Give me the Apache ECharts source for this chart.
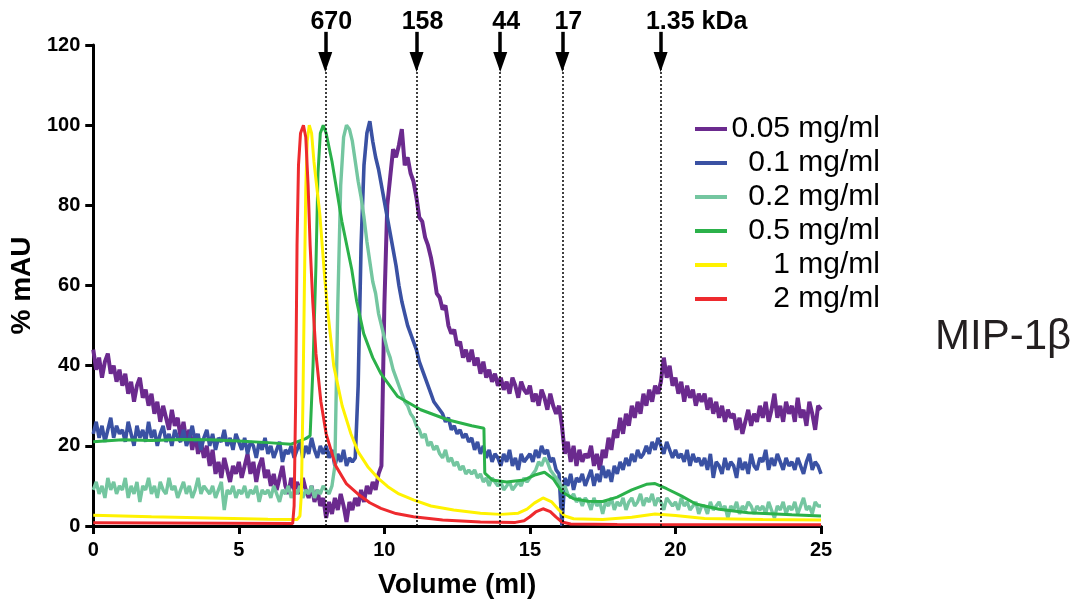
<!DOCTYPE html>
<html lang="en">
<head>
<meta charset="utf-8">
<title>MIP-1β SEC</title>
<script src="https://cdn.jsdelivr.net/npm/echarts@6/dist/echarts.min.js"></script>
<style>
  html, body { margin: 0; padding: 0; background: #fff; }
  #chart { width: 1084px; height: 607px; }
</style>
</head>
<body>
<div id="chart"></div>
<script>
// noisy traces are read every 0.1 ml from 0 to 25 ml
var STEP = 0.1;

var purple005 = [
  44, 39, 42, 37, 41, 43, 38, 40, 36, 39,
  35, 38, 33, 36, 31, 35, 37, 32, 34, 30,
  33, 28, 31, 26, 30, 27, 24, 29, 25, 27,
  22, 26, 21, 24, 19, 23, 18, 21, 17, 20,
  15, 19, 13, 16, 12, 17, 14, 11, 15, 13,
  16, 12, 15, 18, 13, 16, 11, 15, 17, 12,
  14, 10, 13, 9, 12, 15, 10, 8, 12, 9,
  11, 8, 12, 9, 7, 10, 6, 9, 5, 7,
  2, 6, 3, 7, 4, 8, 5, 1, 6, 4,
  7, 5, 9, 6, 10, 8, 11, 9, 13, 15,
  55, 80, 87, 94, 92, 95, 99, 90, 92, 88,
  86, 82, 77, 76, 72, 70, 67, 63, 58, 57,
  54, 55, 50, 48, 49, 45, 46, 42, 44, 41,
  44, 40, 42, 38, 41, 37, 39, 36, 38, 35,
  37, 34, 36, 33, 37, 35, 32, 36, 34, 33,
  35, 31, 33, 30, 34, 32, 29, 33, 30, 28,
  30, 25, 18, 21, 16, 20, 15, 19, 16, 18,
  17, 20, 15, 18, 14, 19, 17, 22, 19, 24,
  22, 27, 23, 28, 25, 30, 27, 31, 28, 33,
  30, 34, 31, 35, 33, 36, 42, 37, 40, 35,
  37, 33, 36, 31, 35, 32, 34, 30, 33, 31,
  33, 29, 32, 28, 31, 27, 30, 26, 29, 27,
  28, 24, 27, 23, 26, 29, 25, 28, 26, 30,
  27, 31, 26, 29, 33, 27, 30, 26, 31, 28,
  30, 26, 32, 27, 29, 25, 31, 28, 24, 30,
  29
];

var blue01 = [
  23, 26, 22, 25, 21, 24, 27, 22, 25, 23,
  24, 21, 26, 23, 20, 25, 22, 24, 21, 26,
  22, 24, 20, 23, 25, 21, 23, 20, 24, 22,
  21, 24, 20, 22, 25, 21, 23, 19, 22, 24,
  20, 23, 19, 22, 21, 24, 20, 22, 19, 23,
  21, 19, 22, 18, 21, 20, 17, 21, 19, 22,
  18, 20, 17, 19, 21, 16, 19, 18, 20, 17,
  19, 21, 17, 20, 18, 22, 19, 17, 20, 18,
  20, 17, 19, 15, 18, 16, 19, 15, 17, 16,
  17, 35, 70, 90, 98, 101, 96, 92, 89, 85,
  81, 77, 73, 69, 65, 60, 56, 53, 50, 48,
  46, 44, 41, 39, 37, 35, 33, 31, 30, 29,
  28, 26, 27, 24, 25, 23, 24, 22, 23, 21,
  22, 19, 21, 18, 20, 17, 19, 16, 18, 17,
  15, 18, 16, 19, 15, 17, 14, 18, 16, 17,
  18, 16, 19, 17, 20, 18, 19, 16, 17, 14,
  13, 0, 12, 10, 13, 9, 12, 11, 13, 10,
  12, 14, 10, 13, 11, 15, 12, 14, 11, 15,
  13, 16, 14, 17, 15, 18, 16, 19, 17, 18,
  20, 18, 21, 19, 22, 20, 18, 21, 19, 17,
  19, 17, 18, 16, 19, 15, 18, 16, 17, 15,
  17, 14, 18, 12, 16, 15, 13, 17, 14, 16,
  15, 12, 17, 14, 16, 13, 18, 15, 14, 17,
  16, 19, 14, 17, 15, 18, 16, 14, 17, 15,
  16, 14, 17, 15, 13, 16, 18, 14, 16, 15,
  13
];

var mint02 = [
  9, 11, 8, 10, 7, 12, 9, 11, 8, 10,
  9, 12, 7, 10, 8, 11, 6, 10, 9, 12,
  8, 10, 7, 11, 9, 8, 12, 9, 10, 7,
  9, 11, 8, 10, 7, 9, 12, 8, 10, 9,
  8, 10, 7, 9, 11, 4, 9, 8, 10, 7,
  9, 8, 10, 7, 9, 8, 10, 6, 9, 8,
  9, 7, 10, 8, 6, 9, 8, 10, 7, 9,
  8, 10, 7, 9, 8, 10, 7, 9, 8, 10,
  9, 8, 10, 15, 55, 85, 97, 100, 99, 96,
  91, 86, 82, 77, 71, 66, 61, 58, 53, 50,
  47, 44, 42, 39, 37, 35, 33, 31, 30, 28,
  27, 25, 24, 22, 23, 20, 21, 19, 20, 18,
  17, 19, 16, 17, 15, 16, 14, 15, 13, 14,
  13, 14, 12, 13, 11, 12, 10, 12, 11, 10,
  11, 9, 10, 11, 9, 10, 11, 10, 12, 11,
  12, 13, 14, 16, 15, 17, 16, 14, 13, 12,
  11, 9, 10, 8, 7, 8, 6, 7, 5, 7,
  6, 4, 7, 5, 6, 3, 6, 5, 7, 4,
  6, 5, 7, 4, 6, 7, 5, 6, 8, 5,
  7, 6, 8, 5, 7, 6, 4, 7, 6, 5,
  6, 4, 7, 5, 6, 4, 5, 6, 3, 5,
  5, 3, 6, 4, 5, 6, 4, 5, 2, 5,
  4, 6, 3, 5, 4, 6, 5, 3, 5, 4,
  5, 3, 6, 4, 2, 5, 4, 6, 3, 5,
  4, 6, 3, 5, 7, 4, 5, 3, 6, 5,
  5
];

// smooth traces as [volume, %mAU] readings
var green05 = [
  [0, 21], [1, 21.5], [2, 21.3], [3, 21.6], [4, 21.5], [5, 21.2], [6, 20.8],
  [6.8, 20.4], [7.0, 21], [7.3, 21.8], [7.45, 22.5], [7.55, 40], [7.65, 65],
  [7.72, 88], [7.8, 98], [7.9, 100], [8.0, 98], [8.2, 91], [8.54, 76], [8.88, 64],
  [9.05, 56], [9.29, 48], [9.6, 42], [9.88, 38], [10.46, 32.3], [11.25, 29],
  [12.17, 26.5], [13.0, 25], [13.42, 24.4], [13.45, 13.2], [13.7, 11.5],
  [14.2, 11], [14.8, 11.5], [15.2, 12.8], [15.5, 13.4], [15.8, 11.8], [16.1, 8.5],
  [16.5, 6.8], [17, 6.2], [17.5, 6.1], [18, 7.2], [18.5, 9], [19, 10.4],
  [19.3, 10.6], [19.7, 9.3], [20.2, 7.5], [20.7, 5.5], [21.5, 4.2], [22.5, 3.3],
  [24, 2.8], [25, 2.5]
];

var yellow1 = [
  [0, 2.7], [2, 2.3], [4, 2.0], [6, 1.7], [7.0, 1.6], [7.1, 2.5], [7.15, 8],
  [7.2, 30], [7.25, 58], [7.3, 84], [7.35, 96], [7.42, 100], [7.5, 98],
  [7.58, 91], [7.78, 78], [7.95, 62], [8.05, 54], [8.26, 40], [8.55, 30],
  [8.85, 23], [9.1, 18.5], [9.43, 14.8], [9.8, 11.8], [10.12, 9.8], [10.5, 8],
  [11.0, 6.5], [11.6, 5], [12.38, 4], [13.3, 3.2], [14.0, 2.9], [14.6, 3.2],
  [14.9, 4.2], [15.15, 5.7], [15.45, 7.0], [15.75, 6.0], [16.0, 4.0],
  [16.2, 2.5], [16.5, 1.8], [17.5, 1.6], [18.5, 2.2], [19.3, 3.0], [20, 2.6],
  [21, 1.9], [23, 1.6], [25, 1.5]
];

var red2 = [
  [0, 0.8], [6.85, 0.6], [6.9, 5], [6.95, 30], [7.0, 70], [7.05, 90],
  [7.12, 98], [7.22, 100], [7.3, 97], [7.38, 85], [7.45, 70], [7.54, 56],
  [7.65, 43], [7.82, 31], [8.0, 23], [8.33, 15], [8.7, 10.5], [9.09, 8],
  [9.5, 5.8], [9.88, 4.4], [10.4, 3.1], [11.0, 2.3], [12, 1.5], [13.3, 1.0],
  [14.5, 0.9], [14.8, 1.3], [15.0, 2.3], [15.2, 3.5], [15.45, 4.3], [15.7, 3.6],
  [15.9, 2.2], [16.1, 1.0], [16.4, 0.5], [18, 0.4], [25, 0.3]
];

// molecular weight standards
var markerVol = [8.0, 11.13, 14.0, 16.13, 19.5];
var markerLabel = ['670', '158', '44', '17', '1.35 kDa'];

var seriesNames = ['0.05 mg/ml', '0.1 mg/ml', '0.2 mg/ml', '0.5 mg/ml', '1 mg/ml', '2 mg/ml'];
var seriesColors = ['#6b2a8e', '#3a51a3', '#74c6a0', '#2bb14a', '#fff200', '#ee2a2e'];

function onGrid(vals) {
  return vals.map(function (v, i) { return [+(i * STEP).toFixed(1), v]; });
}

var FONT = "'Liberation Sans', Arial, sans-serif";

// markers live on a second, taller (hidden) grid so the arrows can rise above 120
var markLines = [];
markerVol.forEach(function (x, i) {
  markLines.push([
    { coord: [x, 0], lineStyle: { type: [2, 2], width: 1.5, color: '#000' }, label: { show: false } },
    { coord: [x, 116] }
  ]);
  markLines.push([
    {
      coord: [x, 123.3],
      symbol: 'none',
      lineStyle: { type: 'solid', width: 3.5, color: '#000' },
      label: {
        show: true, position: 'start', distance: 0,
        formatter: markerLabel[i],
        offset: [i === markerVol.length - 1 ? 36 : 6, 3],
        color: '#000', fontFamily: FONT, fontWeight: 'bold', fontSize: 25
      }
    },
    { coord: [x, 115.8], symbol: 'triangle', symbolSize: [14, 20] }
  ]);
});

var traces = [onGrid(purple005), onGrid(blue01), onGrid(mint02), green05, yellow1, red2];
var widths = [4, 3.6, 3.4, 3, 3, 3];

var series = traces.map(function (d, i) {
  return {
    name: seriesNames[i],
    type: 'line',
    data: d,
    showSymbol: false,
    symbol: 'none',
    lineStyle: { width: widths[i], color: seriesColors[i] },
    itemStyle: { color: seriesColors[i] }
  };
});

series.push({
  name: 'standards',
  type: 'line',
  xAxisIndex: 1,
  yAxisIndex: 1,
  data: [[markerVol[0], 0]],
  symbol: 'none',
  lineStyle: { opacity: 0 },
  silent: true,
  z: 1,
  markLine: {
    silent: true,
    symbol: ['none', 'none'],
    animation: false,
    data: markLines
  }
});

var chart = echarts.init(document.getElementById('chart'));
chart.setOption({
  animation: false,
  title: {
    text: 'MIP-1β',
    left: 930,
    top: 311,
    textStyle: { fontFamily: FONT, fontWeight: 'normal', fontSize: 42, color: '#231f20' }
  },
  grid: [
    { left: 92, right: 263, top: 45, bottom: 81 },
    { left: 92, right: 263, top: 5, bottom: 81 }
  ],
  legend: {
    orient: 'vertical',
    left: 695,
    top: 114,
    padding: 0,
    data: seriesNames,
    icon: 'rect',
    itemWidth: 32,
    itemHeight: 4,
    itemGap: 4,
    itemTextGap: 16,
    formatter: function (name) { return '{t|' + name + '}'; },
    textStyle: {
      rich: {
        t: { width: 148, align: 'right', fontFamily: FONT, fontSize: 30, lineHeight: 30, color: '#000' }
      }
    }
  },
  xAxis: [{
    type: 'value',
    min: 0, max: 25, interval: 5,
    name: 'Volume (ml)',
    nameLocation: 'middle',
    nameGap: 45,
    nameTextStyle: { fontFamily: FONT, fontWeight: 'bold', fontSize: 28, color: '#000' },
    axisLine: { lineStyle: { color: '#000', width: 3 } },
    axisTick: { length: 8, lineStyle: { width: 3, color: '#000' } },
    axisLabel: { margin: 14, fontFamily: FONT, fontWeight: 'bold', fontSize: 20, color: '#000' },
    splitLine: { show: false }
  }, {
    type: 'value', gridIndex: 1, min: 0, max: 25, show: false
  }],
  yAxis: [{
    type: 'value',
    min: 0, max: 120, interval: 20,
    name: '% mAU',
    nameLocation: 'middle',
    nameGap: 56,
    nameTextStyle: { fontFamily: FONT, fontWeight: 'bold', fontSize: 28, color: '#000' },
    axisLine: { show: true, lineStyle: { color: '#000', width: 3 } },
    axisTick: { show: true, length: 8, lineStyle: { width: 3, color: '#000' } },
    axisLabel: { margin: 13, fontFamily: FONT, fontWeight: 'bold', fontSize: 20, color: '#000' },
    splitLine: { show: false }
  }, {
    // 130 units over 521 px keeps the same scale as the main axis
    type: 'value', gridIndex: 1, min: 0, max: 130, show: false
  }],
  series: series
});
</script>
</body>
</html>
